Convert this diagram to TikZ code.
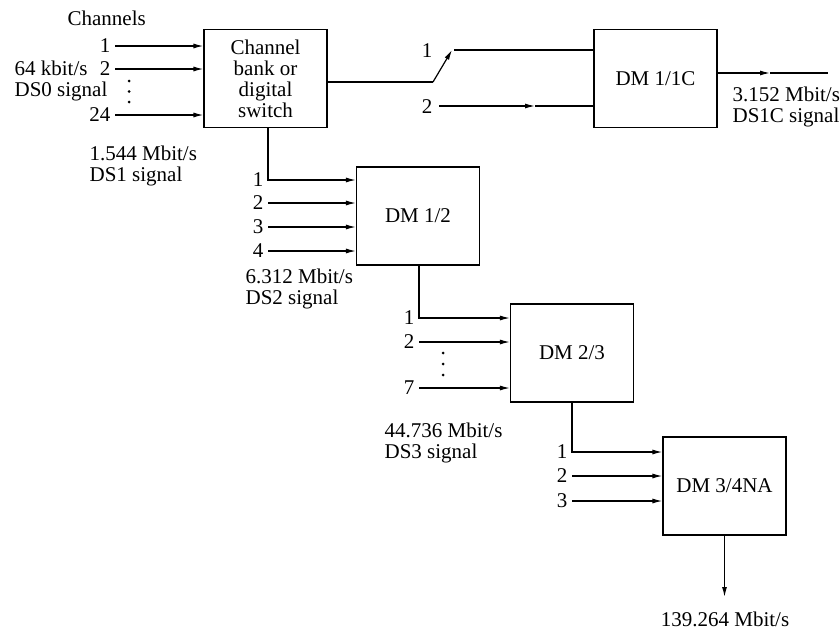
\documentclass[tikz,border=0pt]{standalone}
\usepackage{fontspec}
\setmainfont{Liberation Serif}
\usetikzlibrary{arrows.meta}
\begin{document}
\begin{tikzpicture}[x=1pt,y=-1pt,
  font=\fontsize{21}{21}\selectfont, line width=1.2pt,
  box/.style={draw, minimum width=123pt, minimum height=98pt, inner sep=0pt, align=center},
  arr/.style={-{Latex[length=10pt,width=5pt]}},
  lbl/.style={inner sep=4pt, anchor=east},
  txt/.style={inner sep=0pt, anchor=west, align=left},
  dotc/.style={fill, circle, inner sep=0pt, minimum size=3pt}]
\useasboundingbox (0,0) rectangle (840,629);

% boxes
\node[box] (cb) at (265.5,78.5) {Channel\\bank or\\digital\\switch};
\node[box] (dm1c) at (655.5,78.5) {DM 1/1C};
\node[box] (dm12) at (418,216) {DM 1/2};
\node[box] (dm23) at (572,353) {DM 2/3};
\node[box] (dm34) at (724.5,486) {DM 3/4NA};

% channel bank inputs
\coordinate (ca) at (115,46);
\coordinate (cbb) at (115,69);
\coordinate (cc) at (115,115);
\draw[arr] (ca) -- (ca -| cb.west);
\draw[arr] (cbb) -- (cbb -| cb.west);
\draw[arr] (cc) -- (cc -| cb.west);
\node[lbl] (la) at (ca) {1};
\node[lbl] (lb) at (cbb) {2};
\node[lbl] (lc) at (cc) {24};
\node[dotc] (d1) at (129,81) {};
\node[dotc] (d2) at (129,91.5) {};
\node[dotc] (d3) at (129,102) {};
\node[txt] (chan) at (67,18) {Channels};
\node[txt] (ds0) at (14,81) {64 kbit/s\\DS0 signal};
\node[txt] (ds1) at (89,166) {1.544 Mbit/s\\DS1 signal};

% switch to DM 1/1C
\coordinate (sw0) at (433,82);
\coordinate (sw1) at (452,50);
\coordinate (sw2) at (454,50);
\coordinate (sw3) at (439,106);
\coordinate (sw4) at (535,106);
\draw (cb.east |- sw0) -- (sw0);
\draw[arr] (sw0) -- (sw1);
\draw (sw2) -- (sw2 -| dm1c.west);
\draw[arr] (sw3) -- (sw4);
\draw (sw4) -- (sw4 -| dm1c.west);
\node (s1) at (427,51) {1};
\node (s2) at (427,107) {2};
\coordinate (o1m) at (770,73);
\coordinate (o1c) at (828,73);
\draw[arr] (dm1c.east |- o1c) -- (o1m);
\draw (o1m) -- (o1c);
\node[txt] (ds1c) at (732,107) {3.152 Mbit/s\\DS1C signal};

% DM 1/2 inputs
\coordinate (e1) at (268,180);
\coordinate (e2) at (268,203);
\coordinate (e3) at (268,227);
\coordinate (e4) at (268,251);
\draw[arr] ([xshift=2.5pt]cb.south) -- (e1) -- (e1 -| dm12.west);
\draw[arr] (e2) -- (e2 -| dm12.west);
\draw[arr] (e3) -- (e3 -| dm12.west);
\draw[arr] (e4) -- (e4 -| dm12.west);
\node[lbl] (le1) at (e1) {1};
\node[lbl] (le2) at (e2) {2};
\node[lbl] (le3) at (e3) {3};
\node[lbl] (le4) at (e4) {4};
\node[txt] (ds2) at (245,289) {6.312 Mbit/s\\DS2 signal};

% DM 2/3 inputs
\coordinate (f1) at (419,318);
\coordinate (f2) at (419,342);
\coordinate (f3) at (419,388);
\draw[arr] ([xshift=1pt]dm12.south) -- (f1) -- (f1 -| dm23.west);
\draw[arr] (f2) -- (f2 -| dm23.west);
\draw[arr] (f3) -- (f3 -| dm23.west);
\node[lbl] (lf1) at (f1) {1};
\node[lbl] (lf2) at (f2) {2};
\node[lbl] (lf3) at (f3) {7};
\node[dotc] (g1) at (443,353) {};
\node[dotc] (g2) at (443,364) {};
\node[dotc] (g3) at (443,375) {};
\node[txt] (ds3) at (384,443) {44.736 Mbit/s\\DS3 signal};

% DM 3/4NA inputs
\coordinate (h1) at (572,452);
\coordinate (h2) at (572,476);
\coordinate (h3) at (572,501);
\draw[arr] (dm23.south) -- (h1) -- (h1 -| dm34.west);
\draw[arr] (h2) -- (h2 -| dm34.west);
\draw[arr] (h3) -- (h3 -| dm34.west);
\node[lbl] (lh1) at (h1) {1};
\node[lbl] (lh2) at (h2) {2};
\node[lbl] (lh3) at (h3) {3};
\coordinate (o34) at (724.5,597);
\draw[arr] (dm34.south) -- (o34);
\node (ds4) at (725,619) {139.264 Mbit/s};
\end{tikzpicture}
\end{document}
